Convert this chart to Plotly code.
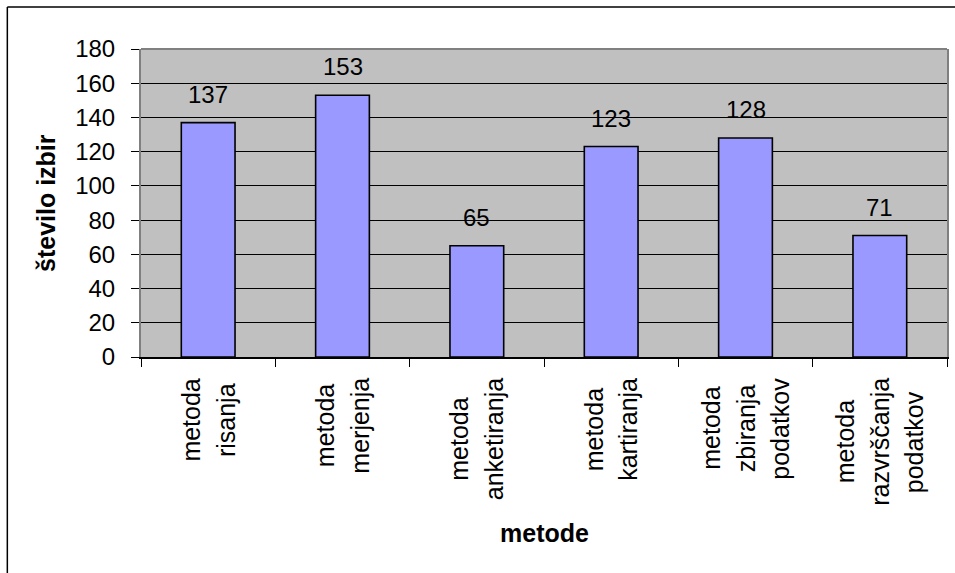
import plotly.graph_objects as go

# Data
categories = [
    "metoda risanja",
    "metoda merjenja",
    "metoda anketiranja",
    "metoda kartiranja",
    "metoda zbiranja podatkov",
    "metoda razvrščanja podatkov",
]
category_lines = [
    ["metoda", "risanja"],
    ["metoda", "merjenja"],
    ["metoda", "anketiranja"],
    ["metoda", "kartiranja"],
    ["metoda", "zbiranja", "podatkov"],
    ["metoda", "razvrščanja", "podatkov"],
]
counts = [137, 153, 65, 123, 128, 71]
y_ticks = [0, 20, 40, 60, 80, 100, 120, 140, 160, 180]

FONT = "Liberation Sans, Arial, sans-serif"
CAT_SIZE = 25
LINE_STEP = 34.5  # px between rotated label lines

# Approximate Arial/Liberation Sans advance widths (em) for label length estimates
CHAR_W = {
    "m": .833, "e": .556, "t": .278, "o": .556, "d": .556, "a": .556, "r": .333,
    "i": .222, "s": .5, "n": .556, "j": .222, "k": .5, "z": .5, "b": .556,
    "p": .556, "v": .5, "š": .5, "č": .5, "c": .5, "l": .222, "g": .556, " ": .278,
}


def text_len(s, size):
    return sum(CHAR_W.get(ch, .556) for ch in s) * size


fig = go.Figure()
fig.add_trace(go.Bar(
    x=categories,
    y=counts,
    width=0.4,
    marker=dict(color="#9999FF", line=dict(color="black", width=1.6)),
    hoverinfo="x+y",
))

annotations = []
# Value labels above the bars
for c, v in zip(categories, counts):
    annotations.append(dict(
        x=c, y=v, xref="x", yref="y", text=str(v), showarrow=False,
        xanchor="center", yanchor="middle", yshift=28.5,
        font=dict(family=FONT, size=24, color="black"),
    ))

# Rotated, centred multi-line category labels under the axis
for c, lines in zip(categories, category_lines):
    longest = max(text_len(s, CAT_SIZE) for s in lines)
    n = len(lines)
    for i, s in enumerate(lines):
        annotations.append(dict(
            x=c, y=0, xref="x", yref="paper", text=s, showarrow=False,
            textangle=-90, xanchor="center", yanchor="middle",
            xshift=(i - (n - 1) / 2) * LINE_STEP,
            yshift=-(21 + longest / 2),
            font=dict(family=FONT, size=CAT_SIZE, color="black"),
        ))

# Axis titles
annotations.append(dict(
    x=0, y=0.5, xref="paper", yref="paper", text="<b>število izbir</b>",
    showarrow=False, textangle=-90, xanchor="center", yanchor="middle",
    xshift=-95, font=dict(family=FONT, size=25, color="black"),
))
annotations.append(dict(
    x=0.5, y=0, xref="paper", yref="paper", text="<b>metode</b>",
    showarrow=False, xanchor="center", yanchor="middle",
    yshift=-176, font=dict(family=FONT, size=25, color="black"),
))

W, H = 955, 573
L, R, T, B = 141, 6, 49, 216
pw, ph = W - L - R, H - T - B


def px_x(p):
    return (p - L) / pw


def px_y(p):
    return (H - B - p) / ph


shapes = [
    # top edge of plot area
    dict(type="line", xref="paper", yref="paper", x0=0, x1=1, y0=1, y1=1,
         line=dict(color="#808080", width=2), layer="above"),
    # outer chart frame (top and left)
    dict(type="line", xref="paper", yref="paper", x0=px_x(7), x1=px_x(970),
         y0=px_y(7), y1=px_y(7), line=dict(color="black", width=1.5)),
    dict(type="line", xref="paper", yref="paper", x0=px_x(7), x1=px_x(7),
         y0=px_y(7), y1=px_y(590), line=dict(color="black", width=1.5)),
]

fig.update_layout(
    width=W, height=H,
    margin=dict(l=L, r=R, t=T, b=B, pad=0),
    paper_bgcolor="white",
    plot_bgcolor="#C0C0C0",
    showlegend=False,
    bargap=0.6,
    annotations=annotations,
    shapes=shapes,
    font=dict(family=FONT, color="black"),
    xaxis=dict(
        type="category",
        range=[-0.5, len(categories) - 0.5],
        showticklabels=False,
        ticks="outside", ticklen=8, tickcolor="black", tickwidth=1,
        tickson="boundaries",
        showgrid=False,
        showline=True, linecolor="black", linewidth=1.5,
        zeroline=False,
        fixedrange=True,
    ),
    yaxis=dict(
        range=[0, 180],
        tickvals=y_ticks,
        ticktext=[str(t) for t in y_ticks],
        ticks="outside", ticklen=8, tickcolor="black", tickwidth=1,
        ticklabelstandoff=11,
        tickfont=dict(family=FONT, size=24, color="black"),
        showgrid=True, gridcolor="black", gridwidth=1,
        showline=True, linecolor="#808080", linewidth=2, mirror=True,
        zeroline=False,
        fixedrange=True,
    ),
)

fig.write_html("out.html")
